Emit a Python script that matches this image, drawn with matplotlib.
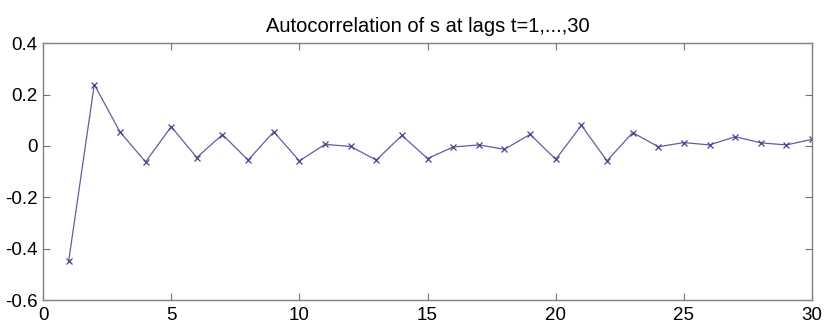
import matplotlib.pyplot as plt

plt.rcParams['font.family'] = ['Liberation Sans', 'DejaVu Sans']

lags = list(range(1, 31))
acf = [-0.449, 0.239, 0.055, -0.062, 0.075, -0.045, 0.044, -0.055, 0.055, -0.058,
       0.006, -0.002, -0.055, 0.041, -0.049, -0.004, 0.004, -0.013, 0.045, -0.052,
       0.080, -0.058, 0.052, -0.003, 0.013, 0.004, 0.036, 0.012, 0.004, 0.026]

fig = plt.figure(figsize=(8.27, 3.32), dpi=100)
ax = fig.add_axes([0.052, 0.096, 0.930, 0.774])

ax.plot(lags, acf, color='#5f5fa0', linewidth=0.9, marker='x',
        markersize=5, markeredgewidth=0.9, markeredgecolor='#45458f')

ax.set_xlim(0, 30)
ax.set_ylim(-0.6, 0.4)
ax.set_xticks([0, 5, 10, 15, 20, 25, 30])
ax.set_yticks([-0.6, -0.4, -0.2, 0, 0.2, 0.4])
ax.set_yticklabels(['-0.6', '-0.4', '-0.2', '0', '0.2', '0.4'])
ax.tick_params(direction='in', top=True, right=True, length=5,
               labelsize=13.5, color='#707070')
ax.tick_params(axis='x', pad=5)
ax.tick_params(axis='y', pad=4)
for s in ax.spines.values():
    s.set_color('#808080')
    s.set_linewidth(1.0)

ax.set_title('Autocorrelation of s at lags t=1,...,30', fontsize=14.5, pad=8)

fig.savefig('out.png', dpi=100)
